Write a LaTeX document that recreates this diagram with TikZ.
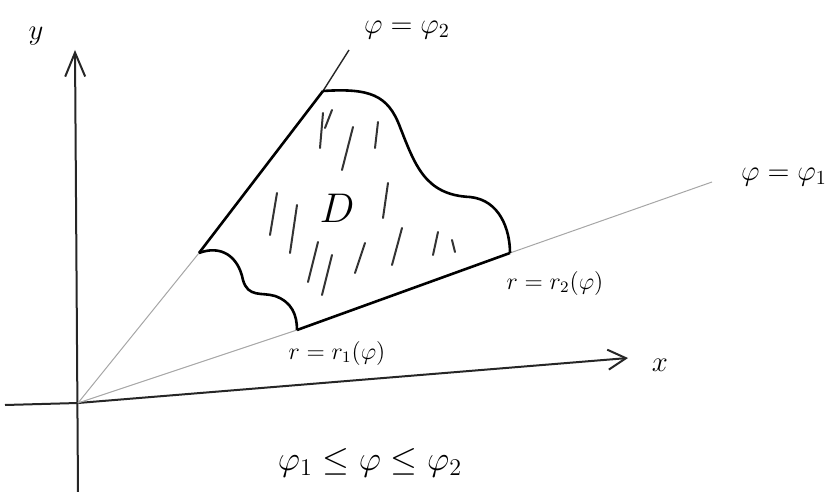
\documentclass[tikz,border=0pt]{standalone}
\usetikzlibrary{arrows.meta, positioning}

\begin{document}
\begin{tikzpicture}[
        x=0.5pt, y=-0.5pt,
        axis/.style={line width=1pt, black!85},
        ray/.style={line width=0.5pt, black!35},
        rim/.style={line width=1.3pt, black},
        hatch/.style={line width=1pt, black!80, line cap=round},
        labelnode/.style={inner sep=1pt}
    ]
        \useasboundingbox (0,0) rectangle (831,492);

        % Points
        \coordinate (O) at (78,403);
        \coordinate (ytop) at (75,50);
        \coordinate (ybot) at (78,492);
        \coordinate (xleft) at (5,405);
        \coordinate (xtip) at (628,358);
        \coordinate (A) at (199,253);
        \coordinate (B) at (323,91);
        \coordinate (end2) at (349,50);
        \coordinate (E) at (297,330);
        \coordinate (C) at (510,253);
        \coordinate (end1) at (712,182);

        % Labels
        \node[labelnode, font=\Large] (ylab) at (36,36) {$y$};
        \node[labelnode, font=\Large] (xlab) at (660,365) {$x$};
        \node[labelnode, font=\Large] (phi2) at (407,30) {$\varphi=\varphi_2$};
        \node[labelnode, font=\Large] (phi1) at (784,177) {$\varphi=\varphi_1$};
        \node[labelnode, font=\large] (r2) at (555,283) {$r=r_2(\varphi)$};
        \node[labelnode, font=\large] (r1) at (337,353) {$r=r_1(\varphi)$};
        \node[labelnode, font=\huge] (dom) at (337,208) {$D$};
        \node[labelnode, font=\LARGE] (range) at (370,463) {$\varphi_1\le\varphi\le\varphi_2$};

        % Axes
        \draw[axis, -{Straight Barb[length=12pt, width=10pt]}] (ybot) -- (ytop);
        \draw[axis] (xleft) -- (O);
        \draw[axis, -{Straight Barb[length=9pt, width=10pt]}] (O) -- (xtip);

        % Rays
        \draw[ray] (O) -- (A);
        \draw[axis, line width=0.7pt] (B) -- (end2);
        \draw[ray] (O) -- (E);
        \draw[ray] (C) -- (end1);

        % Boundary of D
        \draw[rim] (A) -- (B);
        \draw[rim] (B) .. controls (370,88) and (388,95) .. (400,127)
                       .. controls (415,165) and (425,195) .. (470,197)
                       .. controls (500,200) and (510,230) .. (C);
        \draw[rim] (C) -- (E);
        \draw[rim] (A) .. controls (220,245) and (238,255) .. (243,280)
                       .. controls (248,298) and (262,292) .. (275,296)
                       .. controls (292,302) and (297,315) .. (E);

        % Hatching
        \foreach \xa/\ya/\xb/\yb in {323/113/320/148, 332/110/325/128, 353/127/342/170,
                378/122/375/148, 388/183/383/218, 277/193/270/235, 297/205/290/253,
                318/242/308/282, 332/255/322/295, 365/243/355/273, 402/228/392/265,
                438/232/433/255, 452/240/455/252}
            \draw[hatch] (\xa,\ya) -- (\xb,\yb);
    \end{tikzpicture}
\end{document}
